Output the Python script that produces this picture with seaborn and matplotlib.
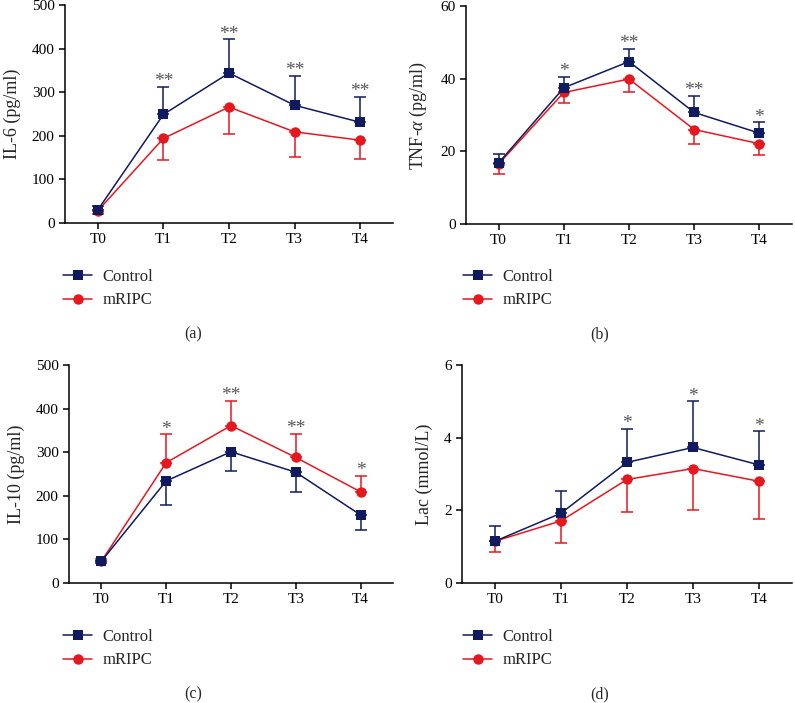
import numpy as np
import pandas as pd
import matplotlib
matplotlib.use("Agg")
import matplotlib.pyplot as plt
from matplotlib.lines import Line2D
import seaborn as sns

# ---------------- data ----------------
times = ["T0", "T1", "T2", "T3", "T4"]
groups = ["Control", "mRIPC"]

il6_control = [30, 249, 344, 270, 231]
il6_control_err = [8, 63, 77, 67, 58]
il6_mripc = [28, 194, 266, 209, 190]
il6_mripc_err = [8, 49, 61, 57, 43]
il6_stars = ["", "**", "**", "**", "**"]

tnf_control = [16.8, 37.5, 44.7, 30.7, 25.0]
tnf_control_err = [2.6, 3.0, 3.5, 4.6, 3.0]
tnf_mripc = [16.5, 36.2, 39.9, 26.0, 22.1]
tnf_mripc_err = [2.8, 3.0, 3.5, 3.9, 3.0]
tnf_stars = ["", "*", "**", "**", "*"]

il10_control = [50, 234, 301, 254, 156]
il10_control_err = [5, 56, 45, 45, 35]
il10_mripc = [50, 276, 361, 288, 209]
il10_mripc_err = [5, 65, 57, 54, 36]
il10_stars = ["", "*", "**", "**", "*"]

lac_control = [1.15, 1.92, 3.32, 3.73, 3.25]
lac_control_err = [0.43, 0.60, 0.93, 1.27, 0.92]
lac_mripc = [1.15, 1.71, 2.85, 3.15, 2.80]
lac_mripc_err = [0.31, 0.60, 0.90, 1.15, 1.03]
lac_stars = ["", "", "*", "*", "*"]

# ---------------- style ----------------
sns.set_theme(style="ticks")
plt.rcParams["font.family"] = ["Liberation Serif", "DejaVu Serif"]
plt.rcParams["mathtext.fontset"] = "custom"
plt.rcParams["mathtext.rm"] = "Liberation Serif"
plt.rcParams["mathtext.it"] = "Liberation Serif:italic"

NAVY = "#101a5e"
RED = "#e5171f"
STAR = "#555555"
LW = 1.1

W, H = 795, 703
fig = plt.figure(figsize=(W / 100, H / 100), dpi=100)


def fx(px):
    return px / W


def fy(py):
    return 1 - py / H


def make_ax(l, t, r, b):
    return fig.add_axes([fx(l), fy(b), fx(r) - fx(l), fy(t) - fy(b)])


def panel(ax, ctrl, ctrl_err, ctrl_up, mr, mr_err, mr_up, stars, ylabel, ymax, yticks):
    pos = np.arange(len(times))
    df = pd.DataFrame({
        "pos": np.concatenate([pos, pos]),
        "value": ctrl + mr,
        "group": ["Control"] * len(times) + ["mRIPC"] * len(times),
    })
    zeros = np.zeros(len(times))
    # error bars (one-sided)
    for vals, err, up, col in [(mr, mr_err, mr_up, RED), (ctrl, ctrl_err, ctrl_up, NAVY)]:
        yerr = [zeros, err] if up else [err, zeros]
        ax.errorbar(pos, vals, yerr=yerr, fmt="none", ecolor=col, elinewidth=LW,
                    capsize=4, capthick=LW, zorder=2)
    sns.lineplot(data=df, x="pos", y="value", hue="group", style="group",
                 hue_order=["mRIPC", "Control"], style_order=["mRIPC", "Control"],
                 palette={"Control": NAVY, "mRIPC": RED},
                 markers={"Control": "s", "mRIPC": "o"}, dashes=False,
                 markersize=7.5, markeredgewidth=0, linewidth=LW,
                 legend=False, sort=False, ax=ax, zorder=3)
    # significance stars above the higher error bar
    for i, s in enumerate(stars):
        if not s:
            continue
        top_c = ctrl[i] + (ctrl_err[i] if ctrl_up else 0)
        top_m = mr[i] + (mr_err[i] if mr_up else 0)
        ax.annotate(s, (pos[i], max(top_c, top_m)), xytext=(0, 0.5),
                    textcoords="offset points", ha="center", va="baseline",
                    fontsize=14, color=STAR)
    ax.set_xlim(-0.5, len(times) - 0.5)
    ax.set_ylim(0, ymax)
    ax.set_yticks(yticks)
    ax.set_xticks(pos)
    ax.set_xticklabels(times)
    ax.set_xlabel("")
    ax.set_ylabel(ylabel, fontsize=13, labelpad=8)
    sns.despine(ax=ax)
    for sp in ["left", "bottom"]:
        ax.spines[sp].set_linewidth(LW)
        ax.spines[sp].set_color("black")
    ax.tick_params(axis="both", length=4, width=LW, pad=3.5, labelsize=11,
                   color="black", labelcolor="black")


ax_a = make_ax(65, 5, 393, 223)
panel(ax_a, il6_control, il6_control_err, True, il6_mripc, il6_mripc_err, False,
      il6_stars, "IL-6 (pg/ml)", 500, [0, 100, 200, 300, 400, 500])

ax_b = make_ax(466, 6, 792, 224)
panel(ax_b, tnf_control, tnf_control_err, True, tnf_mripc, tnf_mripc_err, False,
      tnf_stars, r"TNF-$\mathit{\alpha}$ (pg/ml)", 60, [0, 20, 40, 60])

ax_c = make_ax(69, 365, 393, 583)
panel(ax_c, il10_control, il10_control_err, False, il10_mripc, il10_mripc_err, True,
      il10_stars, "IL-10 (pg/ml)", 500, [0, 100, 200, 300, 400, 500])

ax_d = make_ax(462, 365, 792, 583)
panel(ax_d, lac_control, lac_control_err, True, lac_mripc, lac_mripc_err, False,
      lac_stars, "Lac (mmol/L)", 6, [0, 2, 4, 6])

handles = [
    Line2D([], [], color=NAVY, marker="s", markersize=7.5, markeredgewidth=0, linewidth=LW),
    Line2D([], [], color=RED, marker="o", markersize=7.5, markeredgewidth=0, linewidth=LW),
]

for (lx, ty), (tx, tyl), letter in [((63, 269), (193, 334), "(a)"),
                                     ((463, 269), (600, 334), "(b)"),
                                     ((63, 629), (193, 694), "(c)"),
                                     ((463, 629), (600, 694), "(d)")]:
    fig.legend(handles, groups, loc="upper left", bbox_to_anchor=(fx(lx), fy(ty)),
               frameon=False, borderpad=0, borderaxespad=0, handlelength=1.75,
               handletextpad=0.6, labelspacing=0.45, fontsize=12)
    fig.text(fx(tx), fy(tyl), letter, ha="center", va="center", fontsize=11.5)

fig.savefig("out.png", dpi=100)
